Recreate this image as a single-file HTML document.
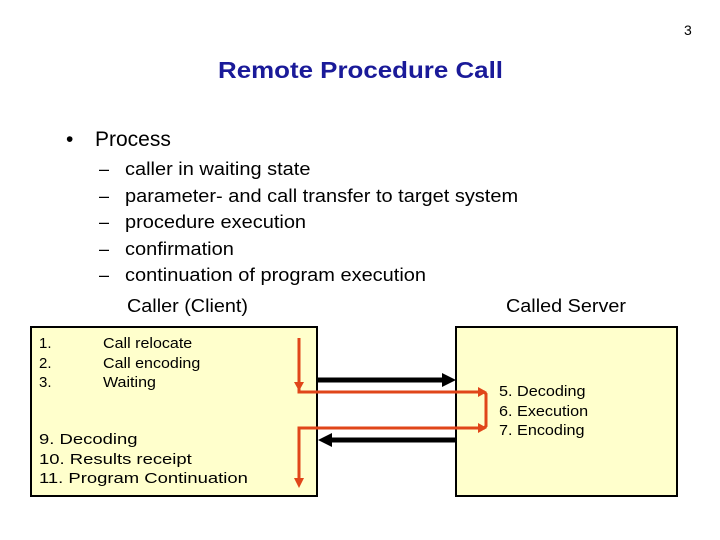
<!DOCTYPE html>
<html><head><style>
body{margin:0;width:720px;height:540px;background:#fff;position:relative;font-family:"Liberation Sans",sans-serif;overflow:hidden}
.t{position:absolute;white-space:nowrap;transform-origin:0 0}
</style></head><body>
<div class="t" style="left:684px;top:22px;font-size:14px">3</div>
<div class="t" style="left:218px;top:57px;font-size:23px;font-weight:bold;color:#1a1a99;transform:scaleX(1.126)">Remote Procedure Call</div>
<div class="t" style="left:66px;top:128px;font-size:21px">•</div>
<div class="t" style="left:95px;top:128px;font-size:21px">Process</div>
<div class="t" style="left:99px;top:156px;font-size:18px;line-height:26.5px">–<br>–<br>–<br>–<br>–</div>
<div class="t" style="left:125px;top:156px;font-size:18px;line-height:26.5px;transform:scaleX(1.11)">caller in waiting state<br>parameter- and call transfer to target system<br>procedure execution<br>confirmation<br>continuation of program execution</div>
<div class="t" style="left:127px;top:296px;font-size:18px;transform:scaleX(1.1)">Caller (Client)</div>
<div class="t" style="left:506px;top:296px;font-size:18px;transform:scaleX(1.1)">Called Server</div>
<div style="position:absolute;left:30px;top:326px;width:284px;height:167px;background:#ffffcc;border:2px solid #000"></div>
<div style="position:absolute;left:455px;top:326px;width:219px;height:167px;background:#ffffcc;border:2px solid #000"></div>
<div class="t" style="left:39px;top:334px;font-size:15px;line-height:19.5px">1.<br>2.<br>3.</div>
<div class="t" style="left:103px;top:334px;font-size:15px;line-height:19.5px;transform:scaleX(1.07)">Call relocate<br>Call encoding<br>Waiting</div>
<div class="t" style="left:39px;top:430px;font-size:15px;line-height:19.5px;transform:scaleX(1.23)">9. Decoding<br>10. Results receipt<br>11. Program Continuation</div>
<div class="t" style="left:499px;top:382px;font-size:15px;line-height:19.5px;transform:scaleX(1.08)">5. Decoding<br>6. Execution<br>7. Encoding</div>
<svg width="720" height="540" style="position:absolute;left:0;top:0">
<line x1="318" y1="380" x2="442" y2="380" stroke="#000" stroke-width="5"/>
<polygon points="456,380 442,373 442,387" fill="#000"/>
<line x1="455" y1="440" x2="332" y2="440" stroke="#000" stroke-width="5"/>
<polygon points="318,440 332,433 332,447" fill="#000"/>
<g stroke="#e0461a" stroke-width="3" fill="none">
<polyline points="299,338 299,392 484,392 486,394 486,426 484,428 299,428 299,478"/>
</g>
<g fill="#e0461a">
<polygon points="299,391 294,382 304,382"/>
<polygon points="487,392 478,387 478,397"/>
<polygon points="487,428 478,423 478,433"/>
<polygon points="299,488 294,478 304,478"/>
</g>
</svg>
</body></html>
